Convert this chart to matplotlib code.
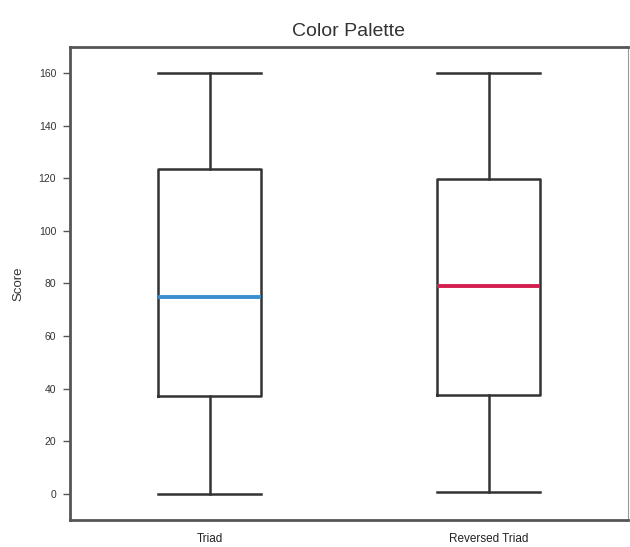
import matplotlib
matplotlib.use("Agg")
import matplotlib.pyplot as plt

plt.rcParams["font.family"] = ["Liberation Sans", "DejaVu Sans"]

categories = ["Triad", "Reversed Triad"]
mins = [0, 0.8]
q1s = [37.3, 37.7]
medians = [74.7, 78.9]
q3s = [123.4, 119.6]
maxs = [160, 160]
median_colors = ["#3b8fd0", "#d42050"]

stats = []
for c, lo, a, m, b, hi in zip(categories, mins, q1s, medians, q3s, maxs):
    stats.append(dict(label=c, whislo=lo, q1=a, med=m, q3=b, whishi=hi, fliers=[]))

fig = plt.figure(figsize=(6.3, 5.47), dpi=100)
ax = fig.add_axes([70/630, 1-520/547, 558/630, 473/547])

edge = "#333333"
bp = ax.bxp(stats, positions=[0, 1], widths=0.37, showfliers=False,
            boxprops=dict(color=edge, linewidth=1.8),
            whiskerprops=dict(color=edge, linewidth=1.8),
            capprops=dict(color=edge, linewidth=1.8),
            medianprops=dict(linewidth=2.8))
for line, col in zip(bp["medians"], median_colors):
    line.set_color(col)
for cap in bp["caps"]:
    x = cap.get_xdata()
    c = (x[0] + x[1]) / 2
    cap.set_xdata([c - 0.185, c + 0.185])

ax.set_xlim(-0.5, 1.5)
ax.set_ylim(-10, 170)
ax.set_yticks([0, 20, 40, 60, 80, 100, 120, 140, 160])
ax.tick_params(axis="y", labelsize=7.5, length=5, width=1, pad=5, color="#555555", labelcolor="#333333")
ax.tick_params(axis="x", labelsize=8.5, length=0, pad=9, labelcolor="#222222")
ax.set_ylabel("Score", fontsize=9.5, color="#333333", labelpad=10)
ax.set_title("Color Palette", fontsize=14, color="#333333", pad=8)

for s in ["left", "bottom", "top"]:
    ax.spines[s].set_linewidth(2)
    ax.spines[s].set_color("#555555")
ax.spines["right"].set_linewidth(0.8)
ax.spines["right"].set_color("#999999")

fig.savefig("out.png", dpi=100)
